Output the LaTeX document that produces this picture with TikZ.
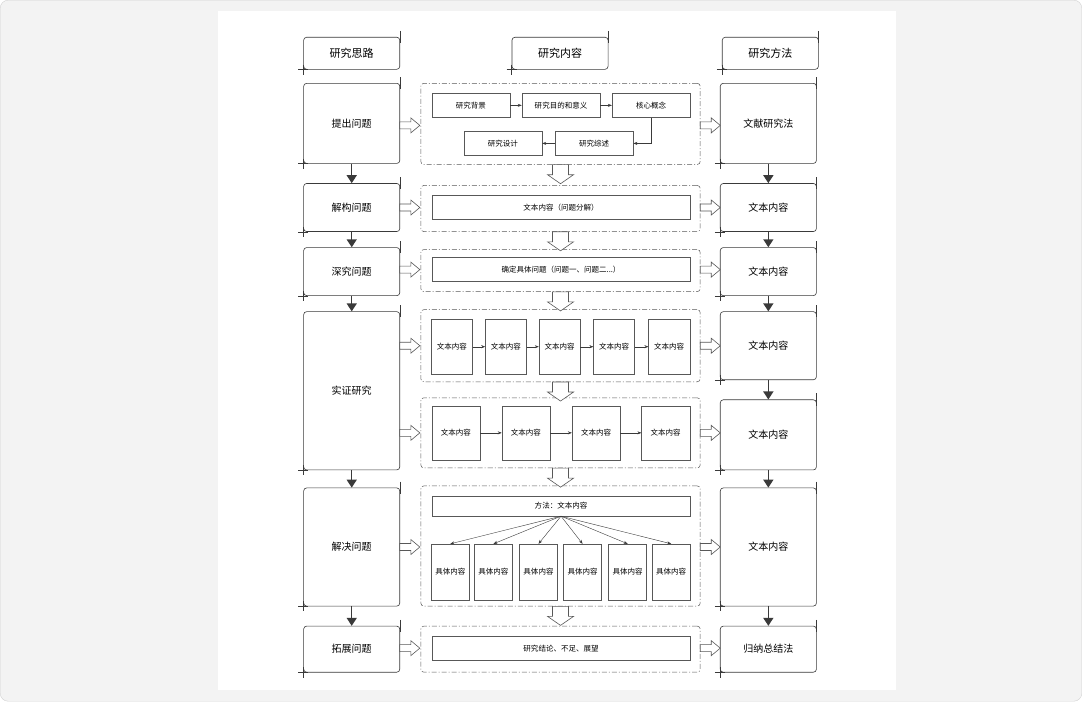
\documentclass[tikz,border=0pt]{standalone}
\usepackage{fontspec}
\setmainfont{Noto Sans CJK SC}
\usetikzlibrary{calc,arrows.meta}
\definecolor{cardbg}{HTML}{F3F3F3}
\definecolor{line}{HTML}{3A3A3A}
\tikzset{
  colbox/.style={draw=line, line width=0.6pt, rounded corners=3pt, font=\fontsize{10}{12}\selectfont, inner sep=0pt},
  inbox/.style={draw=line!85, font=\fontsize{7.5}{9}\selectfont, inner sep=0pt},
  grp/.style={draw=line!85, line width=0.5pt, dash pattern=on 5pt off 2pt on 1pt off 2pt, rounded corners=3pt},
  hollow/.style={draw=line!85, fill=white, line width=0.6pt},
  thin arrow/.style={draw=line, -{Stealth[length=4pt,width=3pt]}, line width=0.4pt},
  down arrow/.style={draw=line, line width=1.5pt, -{Triangle[length=8pt,width=10pt]}}
}
\newcommand\rarrow[2]{\draw[hollow] (#1,#2-3.5) -- ++(11,0) -- ++(0,-4) -- ++(9,7.5) -- ++(-9,7.5) -- ++(0,-4) -- ++(-11,0) -- cycle;}
\newcommand\darrow[1]{\draw[hollow] ($(#1)+(-8,0)$) -- ++(16,0) -- ++(0,10) -- ++(5,0) -- ++(-13,9) -- ++(-13,-9) -- ++(5,0) -- cycle;}
\newcommand\sketchy[1]{\draw[line, line width=0.5pt] ($(#1.north east)+(0,-6)$) -- ++(0,12) ($(#1.south west)+(-5,0)$) -- ++(10,0) ($(#1.south west)+(0,-5)$) -- ++(0,10);}
\begin{document}
\begin{tikzpicture}[x=1pt,y=-1pt]
\fill[cardbg, draw=black!18, rounded corners=8pt] (1,1) rectangle (1081,701);
\fill[white] (218,12) rectangle (895,690);

% headers
\foreach \n/\x/\t in {hl/304/研究思路, hm/512/研究内容, hr/722/研究方法}{
  \node[colbox, minimum width=96pt, minimum height=32pt, font=\fontsize{11}{13}\selectfont] (\n) at (\x+48,54) {\t};
  \sketchy{\n}
}

% left column
\foreach \n/\a/\b/\t in {l1/84/164/提出问题, l2/184/232/解构问题, l3/248/296/深究问题, l4/312/470/实证研究, l5/488/606/解决问题, l6/626/672/拓展问题}{
  \node[colbox, minimum width=96pt, minimum height={\b-\a}] (\n) at (352,{(\a+\b)/2}) {\t};
  \sketchy{\n}
}
% right column
\foreach \n/\a/\b/\t in {r1/84/164/文献研究法, r2/184/232/文本内容, r3/248/296/文本内容, r4/312/380/文本内容, r5/400/470/文本内容, r6/488/606/文本内容, r7/626/672/归纳总结法}{
  \node[colbox, minimum width=96pt, minimum height={\b-\a}] (\n) at (768,{(\a+\b)/2}) {\t};
  \sketchy{\n}
}
\foreach \a/\b in {l1/l2, l2/l3, l3/l4, l4/l5, l5/l6, r1/r2, r2/r3, r3/r4, r4/r5, r5/r6, r6/r7}
  \draw[down arrow] (\a.south) -- (\b.north);

% middle groups
\foreach \n/\a/\b in {g1/84/165, g2/186/232, g3/250/292, g4/310/382, g5/398/468, g6/486/606, g7/626/672}{
  \node[grp, minimum width=279pt, minimum height={\b-\a}] (\n) at (560.5,{(\a+\b)/2}) {};
}
\foreach \a in {g1, g2, g3, g4, g5, g6}{\darrow{\a.south}}

% group 1
\node[inbox, minimum width=78pt, minimum height=24pt] (bg) at (471,106) {研究背景};
\node[inbox, minimum width=78pt, minimum height=24pt] (md) at (561,106) {研究目的和意义};
\node[inbox, minimum width=78pt, minimum height=24pt] (hx) at (651,106) {核心概念};
\node[inbox, minimum width=78pt, minimum height=24pt] (zs) at (594,144) {研究综述};
\node[inbox, minimum width=78pt, minimum height=24pt] (sj) at (503,144) {研究设计};
\draw[thin arrow] (bg) -- (md);
\draw[thin arrow] (md) -- (hx);
\draw[thin arrow] (hx.south) |- (zs.east);
\draw[thin arrow] (zs) -- (sj);

% groups 2, 3, 7
\node[inbox, minimum width=258pt, minimum height=24pt] (c2) at (561,208) {文本内容（问题分解）};
\node[inbox, minimum width=258pt, minimum height=24pt] (c3) at (561,270) {确定具体问题（问题一、问题二...）};
\node[inbox, minimum width=258pt, minimum height=24pt] (c7) at (561,648) {研究结论、不足、展望};

% group 4
\foreach \i/\x in {1/452, 2/506, 3/559.5, 4/614, 5/669}
  \node[inbox, minimum width=41pt, minimum height=54pt] (e\i) at (\x,347) {文本内容};
\foreach \i [evaluate=\i as \j using int(\i+1)] in {1,...,4}
  \draw[thin arrow] (e\i) -- (e\j);

% group 5
\foreach \i/\x in {1/456, 2/526, 3/596, 4/665.5}
  \node[inbox, minimum width=48pt, minimum height=54pt] (f\i) at (\x,433) {文本内容};
\foreach \i [evaluate=\i as \j using int(\i+1)] in {1,...,3}
  \draw[thin arrow] (f\i) -- (f\j);

% group 6
\node[inbox, minimum width=258pt, minimum height=20pt] (ff) at (561,506) {方法：文本内容};
\foreach \i/\x in {1/450.5, 2/493.5, 3/538.5, 4/582.5, 5/627.5, 6/671}{
  \node[inbox, minimum width=38pt, minimum height=56pt] (s\i) at (\x,572) {具体内容};
  \draw[thin arrow] (ff.south) -- (s\i.north);
}

% hollow arrows into and out of the middle
\foreach \y in {126,208,270,346,433,547,648}{\rarrow{400}{\y}}
\foreach \y in {126,208,270,346,433,547,648}{\rarrow{700}{\y}}
\end{tikzpicture}
\end{document}
